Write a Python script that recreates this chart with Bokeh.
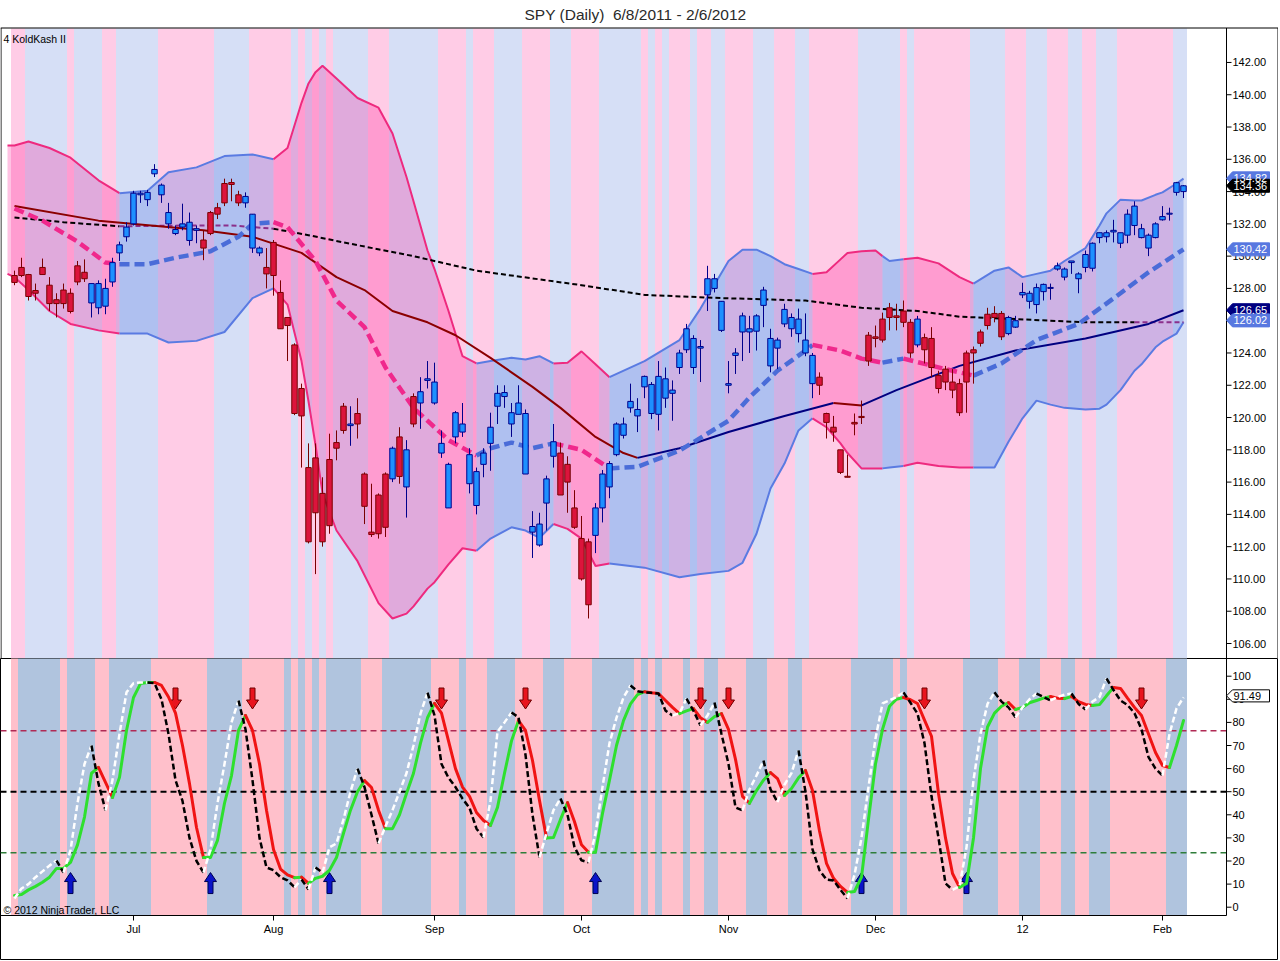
import numpy as np
from bokeh.plotting import figure
from bokeh.layouts import column
from bokeh.models import Range1d
from bokeh.embed import file_html
from bokeh.resources import INLINE
from bokeh.core.properties import value

FONT = "Liberation Sans"

# ---------------- texts / ticks ----------------
title_text = "SPY (Daily)\u00a0 6/8/2011 - 2/6/2012"
indicator_name = "4 KoldKash II"
copyright_text = "\u00a9 2012 NinjaTrader, LLC"
month_ticks = [17, 37, 60, 81, 102, 123, 144, 164]
month_labels = ["Jul", "Aug", "Sep", "Oct", "Nov", "Dec", "12", "Feb"]
price_ticks = list(range(106, 143, 2))
osc_ticks = list(range(0, 101, 10))

# ---------------- daily candles (SPY, 6/8/2011 - 2/6/2012) ----------------
open_ = [128.8, 129.3, 128.86, 127.87, 129.3, 128.2, 127.3, 127.9, 127.7, 129.4,
         129.0, 127.1, 126.8, 126.9, 128.4, 130.2, 131.2, 132.0, 133.8, 133.5,
         135.1, 133.8, 132.0, 131.4, 131.8, 130.97, 131.6, 131.0, 132.7, 133.0,
         134.5, 134.56, 133.8, 133.3, 130.5, 130.2, 129.3, 130.85, 127.75, 126.2,
         124.5, 121.8, 116.9, 117.5, 115.3, 117.4, 118.45, 120.7, 119.5, 120.25,
         116.5, 112.9, 115.2, 116.5, 116.2, 118.8, 115.7, 121.3, 120.9, 122.3,
         120.9, 117.8, 114.4, 118.8, 119.1, 115.9, 114.55, 117.1, 118.4, 120.7,
         121.3, 119.6, 120.2, 116.5, 112.9, 112.1, 114.7, 117.6, 117.8, 117.1,
         114.4, 112.5, 112.3, 112.7, 114.4, 115.7, 117.7, 118.9, 120.6, 120.1,
         121.9, 120.25, 120.2, 121.2, 121.5, 123.1, 124.2, 123.1, 124.3, 127.6,
         128.0, 125.4, 122.0, 123.85, 125.3, 125.3, 125.35, 126.95, 123.2, 124.3,
         125.8, 125.5, 125.2, 124.0, 122.1, 122.5, 120.25, 119.4, 118.0, 116.35,
         119.7, 120.07, 125.1, 125.0, 126.1, 126.8, 126.3, 126.6, 125.9, 124.5,
         124.95, 124.9, 122.6, 123.0, 122.2, 122.1, 124.0, 124.2, 125.3, 126.4,
         126.45, 126.45, 125.2, 125.6, 127.6, 127.2, 127.0, 127.8, 128.0, 129.2,
         128.7, 129.6, 128.6, 129.3, 129.25, 131.15, 131.2, 131.5, 130.8, 131.3,
         131.9, 131.15, 130.5, 131.15, 132.25, 132.6, 133.95, 134.0]
high = [129.1, 129.9, 128.9, 128.3, 129.85, 128.7, 127.7, 128.3, 128.0, 129.7,
        129.8, 128.3, 128.5, 128.6, 129.9, 130.9, 132.1, 134.05, 134.05, 134.1,
        135.7, 134.5, 133.3, 131.9, 133.25, 132.7, 131.9, 131.6, 132.8, 133.3,
        134.8, 134.8, 134.05, 133.95, 132.6, 130.6, 130.5, 131.0, 128.5, 126.2,
        124.6, 122.1, 118.4, 118.4, 116.3, 119.0, 119.2, 120.9, 120.7, 121.2,
        116.6, 115.9, 115.3, 116.6, 118.2, 119.4, 118.6, 121.5, 122.5, 123.5,
        123.4, 119.2, 117.2, 120.4, 120.9, 118.1, 116.9, 118.1, 120.3, 122.0,
        122.0, 120.9, 122.0, 120.5, 114.2, 114.1, 116.4, 119.6, 118.45, 117.6,
        115.5, 113.9, 112.5, 114.7, 116.75, 117.3, 119.7, 120.0, 122.1, 121.2,
        122.6, 122.2, 123.5, 123.1, 122.3, 124.2, 125.8, 125.1, 124.8, 129.4,
        128.9, 127.2, 123.5, 124.3, 126.5, 126.3, 126.4, 128.1, 125.5, 124.95,
        127.05, 126.45, 126.75, 126.45, 124.0, 122.8, 120.3, 120.1, 118.0, 117.7,
        120.25, 121.05, 125.3, 125.7, 126.5, 127.1, 127.05, 127.25, 126.1, 126.3,
        125.2, 125.6, 122.9, 123.2, 123.0, 122.4, 124.15, 124.4, 125.45, 126.8,
        126.9, 126.6, 126.3, 126.3, 128.35, 127.85, 128.3, 128.3, 128.3, 129.6,
        129.3, 129.7, 129.0, 130.35, 130.85, 131.45, 131.6, 132.25, 131.45, 132.9,
        133.4, 132.0, 131.4, 132.1, 133.1, 133.0, 134.6, 134.4]
low = [128.2, 128.7, 127.25, 127.25, 128.86, 126.6, 126.2, 126.75, 126.45, 128.2,
       128.4, 126.2, 126.4, 126.4, 128.1, 129.7, 130.9, 131.9, 133.3, 133.1,
       134.9, 133.3, 131.7, 131.3, 131.6, 130.65, 130.8, 129.75, 131.3, 132.3,
       133.1, 133.4, 133.1, 133.0, 130.2, 130.0, 128.0, 127.55, 125.5, 123.5,
       120.15, 116.9, 112.2, 110.3, 112.0, 112.8, 117.35, 119.0, 118.25, 118.7,
       113.4, 112.6, 112.5, 112.6, 116.0, 115.9, 113.8, 119.4, 119.3, 121.8,
       120.8, 117.5, 114.4, 118.4, 118.8, 115.3, 114.0, 116.3, 116.7, 119.6,
       120.6, 118.8, 120.2, 116.5, 111.3, 112.0, 113.0, 116.9, 115.2, 114.1,
       113.1, 109.9, 107.55, 111.6, 113.5, 115.0, 117.6, 118.7, 120.3, 119.1,
       121.2, 119.9, 119.2, 120.6, 119.8, 122.7, 124.0, 122.7, 122.2, 126.6,
       127.75, 125.3, 121.5, 122.7, 123.5, 124.0, 124.15, 125.6, 122.8, 123.0,
       125.6, 125.0, 124.65, 123.8, 121.2, 121.4, 118.7, 118.5, 116.5, 116.3,
       118.9, 119.6, 123.2, 124.35, 124.65, 125.4, 125.4, 125.6, 123.7, 124.35,
       123.35, 122.5, 121.5, 121.7, 121.2, 120.1, 120.3, 122.1, 124.4, 125.45,
       125.9, 124.8, 125.1, 125.55, 127.4, 126.75, 126.45, 127.25, 127.3, 129.1,
       128.5, 128.9, 127.7, 129.0, 129.05, 130.8, 130.85, 130.85, 130.5, 130.8,
       131.3, 131.1, 130.0, 131.1, 132.2, 132.2, 133.75, 133.6]
close = [128.37, 128.8, 127.5, 127.7, 128.86, 127.06, 127.06, 127.06, 126.57, 128.4,
         128.6, 128.3, 128.3, 128.0, 129.6, 130.7, 131.8, 133.9, 133.9, 133.95,
         135.37, 134.4, 132.7, 131.65, 132.0, 132.1, 131.7, 130.5, 131.4, 132.6,
         133.3, 134.44, 133.3, 133.7, 132.6, 130.5, 128.9, 128.8, 125.5, 125.7,
         120.25, 120.1, 112.3, 114.1, 112.3, 113.3, 118.1, 119.2, 119.6, 119.6,
         114.5, 112.75, 112.8, 113.2, 118.1, 116.35, 118.0, 119.6, 121.6, 122.4,
         122.2, 118.4, 117.1, 120.3, 119.6, 117.7, 116.65, 117.8, 119.4, 121.5,
         121.55, 120.3, 120.9, 120.25, 113.25, 113.4, 116.2, 118.5, 115.2, 116.0,
         113.2, 110.0, 108.4, 114.4, 116.5, 117.15, 119.6, 119.6, 121.0, 120.5,
         122.55, 122.05, 122.55, 122.4, 121.7, 124.0, 125.5, 124.9, 124.4, 128.6,
         128.6, 127.2, 122.1, 124.0, 126.3, 125.5, 126.3, 127.9, 124.9, 124.8,
         126.7, 126.2, 126.1, 124.8, 123.85, 122.0, 119.7, 119.1, 116.6, 116.3,
         119.6, 120.0, 123.5, 124.9, 124.8, 126.2, 126.2, 125.9, 124.0, 126.1,
         124.2, 123.1, 121.8, 122.2, 121.7, 120.3, 122.2, 124.0, 124.6, 125.7,
         126.2, 125.0, 126.2, 126.0, 127.75, 127.7, 128.05, 128.25, 128.05, 129.4,
         129.2, 129.7, 128.9, 130.1, 130.8, 131.45, 131.45, 131.6, 131.45, 132.6,
         133.1, 131.7, 131.3, 132.0, 132.45, 132.65, 134.55, 134.36]

# ---------------- per-bar background state (P = pink / B = blue), as runs ----------------
bg_run_len = [1, 6, 1, 4, 2, 6, 8, 5, 6, 1, 1, 1, 1, 1, 1, 5, 3, 7, 4, 1, 3, 4, 4, 3, 4, 6,
              1, 1, 1, 1, 3, 1, 2, 2, 4, 3, 3, 2, 7, 6, 1, 1, 8, 5, 3, 3, 3, 2, 2, 3, 8, 3]
bg_run_state = "PB" * (len(bg_run_len) // 2)   # runs alternate pink / blue, starting pink

# ---------------- Bollinger bands (knots) ----------------
bb_idx = [-1, 0, 2, 5, 8, 12, 15, 19, 22, 26, 30, 34, 37, 39, 41, 42, 43, 44, 46, 49,
          52, 54, 56, 57, 59, 60, 62, 64, 66, 68, 71, 73, 75, 77, 79, 81, 83, 85, 90, 95,
          98, 102, 104, 106, 108, 110, 112, 114, 116, 118, 119, 121, 123, 124, 125, 127, 129, 132, 135, 137,
          140, 142, 144, 146, 148, 150, 153, 155, 156, 158, 160, 161, 163, 164, 166, 167]
bb_upper = [136.85, 136.85, 137.1, 136.7, 136.1, 134.7, 133.9, 134.05, 135.2, 135.5, 136.2, 136.3, 136.0, 136.7, 139.5, 140.7, 141.4, 141.8, 141.0, 139.8,
            139.2, 137.6, 134.9, 133.4, 130.35, 129.2, 126.6, 123.8, 123.35, 123.5, 123.7, 123.6, 123.8, 123.35, 123.4, 124.1, 123.3, 122.5, 123.5, 124.8,
            126.75, 129.7, 130.4, 130.4, 130.0, 129.5, 129.2, 128.9, 129.0, 129.8, 130.2, 130.3, 130.35, 130.0, 129.7, 129.8, 129.9, 129.55, 128.7, 128.3,
            129.1, 129.3, 128.7, 128.9, 129.1, 129.7, 130.5, 131.9, 132.65, 133.5, 133.45, 133.45, 133.8, 133.95, 134.5, 134.8]
bb_lower = [128.9, 128.7, 127.9, 126.6, 125.8, 125.4, 125.2, 125.2, 124.65, 124.75, 125.3, 127.4, 128.0, 127.0, 123.5, 121.0, 118.3, 115.3, 113.0, 111.1,
            108.5, 107.55, 107.85, 108.3, 109.4, 109.8, 110.9, 111.9, 111.75, 112.5, 113.2, 113.0, 112.55, 113.4, 113.1, 112.5, 110.8, 110.95, 110.7, 110.1,
            110.3, 110.5, 111.0, 112.8, 115.6, 117.15, 119.2, 119.95, 119.4, 118.4, 117.8, 116.85, 116.85, 116.85, 116.9, 117.0, 117.2, 117.0, 116.9, 116.9,
            116.9, 118.5, 119.95, 121.05, 120.8, 120.6, 120.5, 120.55, 120.8, 121.7, 122.9, 123.3, 124.35, 124.7, 125.2, 125.9]
bb_mid_idx = [0, 4, 9, 13, 15, 19, 23, 28, 32, 34, 37, 39, 43, 46, 50, 53, 57, 62, 66, 68,
              71, 74, 77, 81, 85, 89, 95, 102, 105, 109, 113, 114, 118, 121, 124, 127, 133, 137, 141, 146,
              152, 158, 162, 167]
bb_mid = [132.95, 132.2, 130.9, 129.6, 129.5, 129.5, 129.9, 130.3, 131.2, 132.0, 132.1, 131.8, 129.7, 127.25, 125.6, 123.1, 120.6, 118.6, 117.65, 118.1,
          118.45, 118.1, 118.4, 118.0, 116.85, 116.95, 117.95, 119.8, 121.25, 122.9, 124.15, 124.5, 124.15, 123.65, 123.4, 123.65, 123.0, 122.6, 123.35, 124.8,
          125.8, 127.7, 129.0, 130.42]
bb_trend_breaks = [15, 37, 66, 77, 85, 114, 124, 127, 137]   # falling (pink) first, then alternating

sma50_idx = [0, 12, 27, 34, 41, 46, 50, 54, 59, 63, 68, 74, 78, 83, 87, 89, 95, 102, 110, 117,
             121, 126, 135, 143, 153, 162, 167]
sma50 = [133.1, 132.2, 131.6, 131.2, 130.2, 128.7, 127.9, 126.6, 125.9, 125.1, 123.7, 121.9, 120.6, 118.8, 117.8, 117.5, 118.1, 119.1, 120.1, 120.9,
         120.75, 121.7, 123.2, 124.15, 124.9, 125.8, 126.65]
sma50_breaks = [89, 117, 121]

sma200_idx = [0, 7, 15, 25, 31, 37, 42, 47, 57, 66, 81, 90, 101, 113, 121, 129, 135, 143, 153, 160, 167]
sma200 = [132.4, 132.1, 131.85, 131.9, 131.9, 131.7, 131.3, 130.85, 130.0, 129.1, 128.2, 127.6, 127.4, 127.25, 126.8, 126.6, 126.25, 126.1, 125.9, 125.9, 125.9]
sma200_breaks = [15, 37, 160]

# ---------------- oscillator panel ----------------
osc_slow = [5.1, 5.5, 7.5, 9.0, 10.8, 13.0, 16.8, 16.8, 19.4, 27.0,
            39.0, 58.0, 60.5, 54.0, 47.5, 56.2, 76.5, 90.8, 96.8, 97.3,
            97.3, 96.0, 91.0, 84.0, 70.0, 53.5, 34.5, 21.5, 21.5, 28.9,
            45.0, 57.0, 76.5, 83.0, 76.5, 62.0, 42.0, 25.0, 16.5, 14.0,
            12.8, 13.0, 10.3, 12.5, 13.4, 16.0, 21.5, 32.0, 42.0, 50.0,
            54.8, 51.8, 42.0, 34.0, 34.0, 40.0, 49.2, 58.0, 71.0, 82.0,
            88.2, 84.0, 72.0, 60.0, 52.0, 48.0, 41.0, 37.5, 35.4, 43.2,
            58.0, 72.0, 80.8, 76.5, 63.5, 46.2, 30.0, 30.2, 38.0, 45.3,
            37.0, 27.0, 23.8, 23.8, 40.6, 55.0, 70.0, 80.8, 88.0, 92.0,
            93.3, 92.8, 92.5, 89.5, 86.5, 83.8, 85.0, 86.0, 82.0, 80.0,
            82.5, 83.8, 77.0, 64.0, 48.0, 45.0, 50.5, 55.0, 58.3, 55.7,
            48.4, 51.4, 56.0, 59.2, 50.5, 33.0, 19.0, 12.5, 9.0, 6.4,
            6.8, 13.0, 38.0, 62.0, 77.0, 87.0, 90.0, 90.8, 89.8, 88.2,
            81.0, 74.0, 49.2, 30.0, 14.6, 8.6, 10.3, 30.0, 60.0, 78.0,
            84.0, 87.0, 88.6, 85.6, 86.5, 88.5, 89.5, 90.5, 91.2, 90.5,
            90.3, 91.2, 89.0, 87.8, 87.3, 87.7, 91.5, 95.1, 94.7, 90.5,
            86.5, 83.0, 75.0, 67.0, 61.3, 60.5, 70.0, 80.8]
osc_fast = [3.8, 8.1, 10.0, 13.0, 15.5, 18.0, 20.2, 15.0, 24.6, 45.0,
            62.0, 70.0, 53.5, 41.9, 55.0, 75.0, 93.0, 97.0, 97.3, 97.3,
            97.0, 90.0, 75.0, 55.0, 46.0, 30.0, 20.0, 15.0, 25.0, 45.0,
            62.0, 80.0, 89.5, 77.0, 55.0, 30.0, 17.2, 16.0, 13.0, 11.6,
            8.6, 12.0, 7.7, 17.2, 15.0, 25.9, 27.6, 38.0, 50.0, 60.0,
            52.0, 40.0, 27.6, 35.0, 42.0, 50.0, 58.0, 70.0, 83.8, 92.9,
            83.0, 62.0, 56.0, 52.0, 47.0, 43.0, 34.0, 30.2, 46.0, 76.0,
            80.0, 84.3, 82.2, 66.0, 40.0, 21.6, 32.0, 42.0, 47.1, 40.0,
            26.0, 20.3, 19.4, 32.0, 52.0, 71.0, 82.0, 90.8, 96.0, 93.5,
            93.0, 92.8, 92.5, 85.1, 83.0, 84.0, 90.3, 85.0, 78.7, 83.0,
            88.6, 75.0, 62.0, 43.2, 41.9, 51.0, 57.0, 63.5, 51.0, 45.5,
            53.0, 58.0, 67.9, 50.0, 25.0, 16.0, 12.0, 11.6, 7.5, 3.8,
            14.0, 30.0, 52.0, 73.0, 88.2, 89.5, 91.0, 93.0, 88.5, 83.8,
            71.0, 48.0, 30.0, 10.3, 7.5, 9.0, 25.9, 55.0, 75.0, 88.0,
            93.0, 89.0, 86.5, 82.2, 86.5, 90.0, 92.5, 91.0, 89.5, 91.0,
            92.0, 92.5, 88.0, 85.6, 89.0, 91.0, 99.0, 94.0, 89.5, 87.5,
            84.0, 77.0, 65.0, 60.0, 57.0, 75.0, 86.0, 90.8]
osc_levels = [76.4, 50.0, 23.6]
sell_arrow_idx = [23, 34, 61, 73, 98, 102, 130, 161]
buy_arrow_idx = [8, 28, 45, 83, 121, 136]
sell_arrow_tip = 85.8
buy_arrow_tip = 15.0

price_mark_values = [134.82, 134.36, 130.42, 126.65, 126.02]
price_mark_fill = ["#5878E0", "black", "#5878E0", "#000080", "#5878E0"]
osc_mark = 91.49

N = len(close)
assert len(open_) == N == len(high) == len(low) == 168
assert len(osc_slow) == N and len(osc_fast) == N
assert len(bb_idx) == len(bb_upper) == len(bb_lower)
assert len(bb_mid_idx) == len(bb_mid)
assert len(sma50_idx) == len(sma50) and len(sma200_idx) == len(sma200)
assert sum(bg_run_len) == N and len(bg_run_state) == len(bg_run_len)

idx = np.arange(N)
bg_state = []
for s, n in zip(bg_run_state, bg_run_len):
    bg_state += [s] * n
assert len(bg_state) == N
# the price panel's shading is drawn one bar later than the oscillator's
bg_state_top = [bg_state[0]] + bg_state[:-1]

# ---------------- colours ----------------
TOP_BG = {"P": "#FFCCE6", "B": "#D6DFF6"}
BOT_BG = {"P": "#FFC0CB", "B": "#B0C4DE"}
BAND_LINE = ["#EE2A7F", "#5A7BE2"]
BAND_FILL = ["#FF1493", "#4169E1"]
MID_LINE = ["#F0288C", "#4A6CD8"]
SMA50_COL = ["#8B0000", "#000080"]
SMA200_COL = ["#000000", "#8B2F8B"]


# ---------------- pixel geometry of the page (bar i sits at x = 14 + 7 i) ----------------
def xd(px):
    return (px - 14) / 7.0


def yt(py):      # price panel: pixel row -> price
    return 106 + (643 - py) / 16.14


def yb(py):      # oscillator panel: pixel row -> value
    return (906.7 - py) / 2.31


W = 1278
AX = xd(1226)          # right axis position
TICK = 5 / 7.0


def split_by_breaks(xk, breaks):
    bounds = [xk[0]] + list(breaks) + [xk[-1]]
    out = []
    for j in range(len(bounds) - 1):
        a, b = bounds[j], bounds[j + 1]
        sel = [k for k, x in enumerate(xk) if a <= x <= b]
        out.append((j, [xk[k] for k in sel], sel))
    return out


def runs_by_direction(ys):
    out = []
    start = 0
    dirs = [1 if ys[k + 1] >= ys[k] else 0 for k in range(len(ys) - 1)]
    for k in range(1, len(dirs) + 1):
        if k == len(dirs) or dirs[k] != dirs[start]:
            out.append((dirs[start], list(range(start, k + 1))))
            start = k
    return out


def texts(p, xs, ys, labels, size="11px", align="left", color="black", baseline="middle"):
    p.text(x=xs, y=ys, text=labels, text_font=value(FONT), text_font_size=value(size),
           text_align=align, text_baseline=baseline, text_color=color)


# ================= PRICE PANEL =================
top = figure(frame_width=W, frame_height=658, x_range=Range1d(xd(0), xd(W)), y_range=Range1d(yt(658), yt(0)),
             output_backend="svg", toolbar_location=None, x_axis_location=None, y_axis_location=None,
             min_border_left=0, min_border_right=0, min_border_top=0, min_border_bottom=0)
top.grid.visible = False
top.outline_line_color = None
top.background_fill_color = "white"
top.border_fill_color = "white"

top.quad(left=idx - 0.5, right=idx + 0.5, bottom=yt(660), top=yt(28),
         fill_color=[TOP_BG[s] for s in bg_state_top], line_color=None)

for j, xs, sel in split_by_breaks(bb_idx, bb_trend_breaks):
    up = [bb_upper[k] for k in sel]
    lo = [bb_lower[k] for k in sel]
    top.patch(xs + xs[::-1], up + lo[::-1], fill_color=BAND_FILL[j % 2], fill_alpha=0.26, line_color=None)
for j, xs, sel in split_by_breaks(bb_idx, bb_trend_breaks):
    top.line(xs, [bb_upper[k] for k in sel], line_color=BAND_LINE[j % 2], line_width=2)
    top.line(xs, [bb_lower[k] for k in sel], line_color=BAND_LINE[j % 2], line_width=2)

for j, xs, sel in split_by_breaks(sma200_idx, sma200_breaks):
    top.line(xs, [sma200[k] for k in sel], line_color=SMA200_COL[j % 2], line_width=2, line_dash="5 3")
for j, xs, sel in split_by_breaks(sma50_idx, sma50_breaks):
    top.line(xs, [sma50[k] for k in sel], line_color=SMA50_COL[j % 2], line_width=2)
for j, xs, sel in split_by_breaks(bb_mid_idx, bb_trend_breaks):
    top.line(xs, [bb_mid[k] for k in sel], line_color=MID_LINE[j % 2], line_width=4.5, line_dash="10 5")

# candles
o = np.array(open_); c_ = np.array(close); h = np.array(high); l = np.array(low)
up_bar = c_ >= o
body_top = np.maximum(o, c_)
body_bot = np.minimum(o, c_)
body_top = np.maximum(body_top, body_bot + 0.06)
edge = np.where(up_bar, "#00008B", "#7A0000")
fill = np.where(up_bar, "#1E90FF", "#DC143C")
top.segment(x0=idx, y0=np.minimum(l, body_bot), x1=idx, y1=np.maximum(h, body_top),
            line_color=list(edge), line_width=1)
top.vbar(x=idx, width=0.78, top=body_top, bottom=body_bot, fill_color=list(fill),
         line_color=list(edge), line_width=1)

# panel frame lines (top, left, right) and right price axis
top.segment(x0=[xd(0), xd(0.5), xd(W - 0.5), AX], y0=[yt(27.5), yt(27.5), yt(27.5), yt(27.5)],
            x1=[xd(W), xd(0.5), xd(W - 0.5), AX], y1=[yt(27.5), yt(660), yt(660), yt(658)],
            line_color="black", line_width=1)
top.segment(x0=[AX] * len(price_ticks), y0=price_ticks, x1=[AX + TICK] * len(price_ticks), y1=price_ticks,
            line_color="black", line_width=1)
texts(top, [xd(1232)] * len(price_ticks), price_ticks, [f"{t:.2f}" for t in price_ticks])

# price marker boxes with a notch
box = [(0, 0), (6, -6.5), (43, -6.5), (43, 6.5), (6, 6.5)]
for v, fc in zip(price_mark_values, price_mark_fill):
    top.patch([xd(1226 + dx) for dx, dy in box], [v - dy / 16.14 for dx, dy in box],
              fill_color=fc, line_color=fc, line_width=1)
texts(top, [xd(1233)] * len(price_mark_values), price_mark_values,
      [f"{v:.2f}" for v in price_mark_values], color="white")

texts(top, [xd(635)], [yt(14)], [title_text], size="15.5px", align="center", color="#2A2A2A")
texts(top, [xd(3)], [yt(38)], [indicator_name], size="10.5px")

# ================= OSCILLATOR PANEL =================
BOT_BOTTOM = 960
bot = figure(frame_width=W, frame_height=BOT_BOTTOM - 658, x_range=top.x_range,
             y_range=Range1d(yb(BOT_BOTTOM), yb(658)),
             output_backend="svg", toolbar_location=None, x_axis_location=None, y_axis_location=None,
             min_border_left=0, min_border_right=0, min_border_top=0, min_border_bottom=0)
bot.grid.visible = False
bot.outline_line_color = "black"
bot.background_fill_color = "white"
bot.border_fill_color = "white"

bot.quad(left=idx - 0.5, right=idx + 0.5, bottom=yb(915), top=yb(656),
         fill_color=[BOT_BG[s] for s in bg_state], line_color=None)

for lvl, col, w in zip(osc_levels, ["#B02A55", "black", "#2E7D3A"], [1.5, 2, 1.5]):
    bot.line([xd(0), AX], [lvl, lvl], line_color=col, line_width=w, line_dash="6 4")

down_shape = [(-2.5, 21), (2.5, 21), (2.5, 9), (6, 9), (0, 0), (-6, 9), (-2.5, 9)]
for i in sell_arrow_idx:
    bot.patch([i + dx / 7.0 for dx, dy in down_shape], [sell_arrow_tip + dy / 2.31 for dx, dy in down_shape],
              fill_color="#E8141E", line_color="#700000", line_width=1)
for i in buy_arrow_idx:
    bot.patch([i + dx / 7.0 for dx, dy in down_shape], [buy_arrow_tip - dy / 2.31 for dx, dy in down_shape],
              fill_color="#0A14C8", line_color="#000050", line_width=1)

for d, ks in runs_by_direction(osc_slow):
    bot.line([int(k) for k in ks], [osc_slow[k] for k in ks], line_color="#2EE02E" if d else "#F01414",
             line_width=3, line_join="round", line_cap="round")
for d, ks in runs_by_direction(osc_fast):
    bot.line([int(k) for k in ks], [osc_fast[k] for k in ks], line_color="white" if d else "black",
             line_width=2.5, line_dash="6 3")

bot.segment(x0=[xd(0), AX], y0=[yb(915), yb(915)], x1=[AX, AX], y1=[yb(915), yb(658)],
            line_color="black", line_width=1)
bot.segment(x0=[AX] * len(osc_ticks), y0=osc_ticks, x1=[AX + TICK] * len(osc_ticks), y1=osc_ticks,
            line_color="black", line_width=1)
texts(bot, [xd(1232)] * len(osc_ticks), osc_ticks, [str(t) for t in osc_ticks])
bot.segment(x0=month_ticks, y0=[yb(915)] * len(month_ticks), x1=month_ticks, y1=[yb(920)] * len(month_ticks),
            line_color="black", line_width=1)
texts(bot, month_ticks, [yb(928)] * len(month_ticks), month_labels, align="center")

bot.patch([xd(1226 + dx) for dx, dy in box], [osc_mark - dy / 2.31 * 0.93 for dx, dy in box],
          fill_color="white", line_color="black", line_width=1)
texts(bot, [xd(1233)], [osc_mark], [f"{osc_mark:.2f}"])
texts(bot, [xd(3)], [yb(909)], [copyright_text], size="10.5px")

layout = column(top, bot, spacing=0)
open("out.html", "w").write(file_html(layout, INLINE))
